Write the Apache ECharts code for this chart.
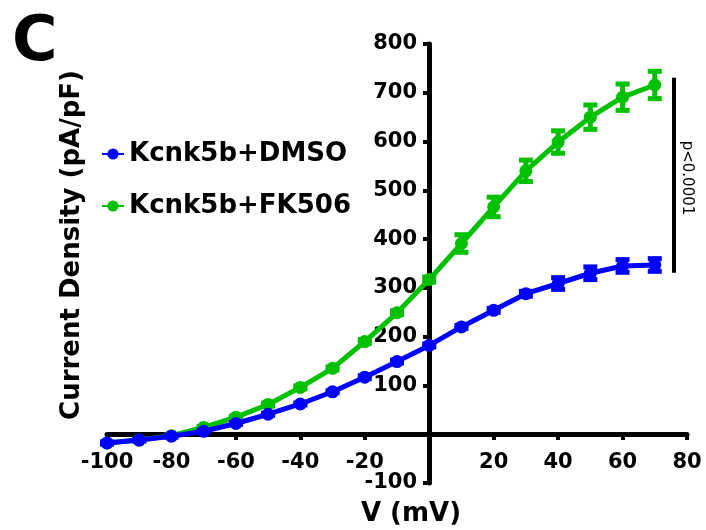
<!DOCTYPE html>
<html>
<head>
<meta charset="utf-8">
<script src="https://cdn.jsdelivr.net/npm/echarts@6/dist/echarts.min.js"></script>
<style>html,body{margin:0;padding:0;background:#fff}#c{width:706px;height:530px}</style>
</head>
<body>
<div id="c"></div>
<script>
var voltages = [-100, -90, -80, -70, -60, -50, -40, -30, -20, -10, 0, 10, 20, 30, 40, 50, 60, 70];
var dmsoMean = [-18, -12, -4, 6, 22, 41, 62, 87, 117, 149, 182, 220, 254, 288, 309, 330, 345, 347];
var dmsoErr  = [2, 2, 2, 2, 2, 2, 2, 2, 3, 3, 3, 3, 4, 5, 12, 13, 13, 13];
var fkMean   = [-18, -12, -3, 14, 35, 61, 96, 135, 190, 249, 317, 391, 466, 540, 599, 650, 691, 716];
var fkErr    = [2, 2, 2, 2, 2, 3, 3, 3, 4, 4, 5, 18, 20, 22, 23, 25, 27, 28];
var seriesNames = ['Kcnk5b+DMSO', 'Kcnk5b+FK506'];
var seriesColors = ['#0000ff', '#00c000'];
var xTicks = {min: -100, max: 80, interval: 20};
var yTicks = {min: -100, max: 800, interval: 100};
var FONT = 'DejaVu Sans';

var GRID = {left: 107, right: 19, top: 44, bottom: 47};
var W = 706, H = 530;
var plotW = W - GRID.left - GRID.right, plotH = H - GRID.top - GRID.bottom;
// shift axes so they cross at zero (labels and ticks move with them)
var yAxisOffset = -Math.round(plotW * (0 - xTicks.min) / (xTicks.max - xTicks.min));
var xAxisOffset = -Math.round(plotH * (0 - yTicks.min) / (yTicks.max - yTicks.min));

function pairs(xs, ys) { return xs.map(function (x, i) { return [x, ys[i]]; }); }
function errData(xs, ys, es) { return xs.map(function (x, i) { return [x, ys[i] - es[i], ys[i] + es[i]]; }); }

function errSeries(name, color, data, z) {
  return {
    type: 'custom', name: name + ' err', z: z, silent: true,
    data: data,
    renderItem: function (params, api) {
      var x = api.value(0);
      var lo = api.coord([x, api.value(1)]);
      var hi = api.coord([x, api.value(2)]);
      var hw = 7;
      var st = {stroke: color, lineWidth: 5};
      return {type: 'group', children: [
        {type: 'line', shape: {x1: lo[0], y1: lo[1], x2: hi[0], y2: hi[1]}, style: st},
        {type: 'line', shape: {x1: lo[0] - hw, y1: lo[1], x2: lo[0] + hw, y2: lo[1]}, style: st},
        {type: 'line', shape: {x1: hi[0] - hw, y1: hi[1], x2: hi[0] + hw, y2: hi[1]}, style: st}
      ]};
    }
  };
}

var chart = echarts.init(document.getElementById('c'));
chart.setOption({
  animation: false,
  backgroundColor: '#fff',
  textStyle: {fontFamily: FONT},
  title: {text: 'C', left: 7, top: 8, textStyle: {fontSize: 62, fontWeight: 'bold', color: '#000', fontFamily: FONT}},
  grid: {left: GRID.left, right: GRID.right, top: GRID.top, bottom: GRID.bottom, containLabel: false},
  legend: {
    data: seriesNames, orient: 'vertical', left: 96, top: 136, itemGap: 26,
    itemWidth: 22, itemHeight: 14,
    textStyle: {fontSize: 26, fontWeight: 'bold', color: '#000', fontFamily: FONT}
  },
  xAxis: {
    type: 'value', min: xTicks.min, max: xTicks.max, interval: xTicks.interval,
    offset: xAxisOffset,
    axisLine: {onZero: false, lineStyle: {color: '#000', width: 5}},
    axisTick: {show: true, length: 6, lineStyle: {color: '#000', width: 4}},
    splitLine: {show: false},
    axisLabel: {margin: 18, fontSize: 21, fontWeight: 'bold', color: '#000', fontFamily: FONT,
      formatter: function (v) { return v === 0 ? '' : String(v); }}
  },
  yAxis: {
    type: 'value', min: yTicks.min, max: yTicks.max, interval: yTicks.interval,
    offset: yAxisOffset,
    axisLine: {show: true, onZero: false, lineStyle: {color: '#000', width: 5}},
    axisTick: {show: true, length: 6, lineStyle: {color: '#000', width: 4}},
    splitLine: {show: false},
    axisLabel: {margin: 12, fontSize: 21, fontWeight: 'bold', color: '#000', fontFamily: FONT,
      formatter: function (v) { return v === 0 ? '' : String(v); }}
  },
  graphic: [
    {type: 'text', x: 72, y: 245, rotation: Math.PI / 2,
      style: {text: 'Current Density (pA/pF)', fontSize: 26, fontWeight: 'bold', fill: '#000', fontFamily: FONT, align: 'center', verticalAlign: 'middle'}},
    {type: 'text', x: 411, y: 514,
      style: {text: 'V (mV)', fontSize: 26, fontWeight: 'bold', fill: '#000', fontFamily: FONT, align: 'center', verticalAlign: 'middle'}},
    {type: 'text', x: 687, y: 178, rotation: -Math.PI / 2,
      style: {text: 'p<0.0001', fontSize: 15, fill: '#000', fontFamily: FONT, align: 'center', verticalAlign: 'middle'}}
  ],
  series: [
    errSeries(seriesNames[1], seriesColors[1], errData(voltages, fkMean, fkErr), 2),
    {
      type: 'line', name: seriesNames[1], data: pairs(voltages, fkMean), z: 3,
      color: seriesColors[1], symbol: 'circle', symbolSize: 13,
      lineStyle: {width: 5, color: seriesColors[1]}, itemStyle: {color: seriesColors[1]},
      markLine: {silent: true, symbol: ['none', 'none'], label: {show: false},
        lineStyle: {color: '#000', width: 4, type: 'solid'},
        data: [[{coord: [76, 731]}, {coord: [76, 331]}]]}
    },
    errSeries(seriesNames[0], seriesColors[0], errData(voltages, dmsoMean, dmsoErr), 4),
    {
      type: 'line', name: seriesNames[0], data: pairs(voltages, dmsoMean), z: 5,
      color: seriesColors[0], symbol: 'circle', symbolSize: 13,
      lineStyle: {width: 5, color: seriesColors[0]}, itemStyle: {color: seriesColors[0]}
    }
  ]
});
</script>
</body>
</html>
